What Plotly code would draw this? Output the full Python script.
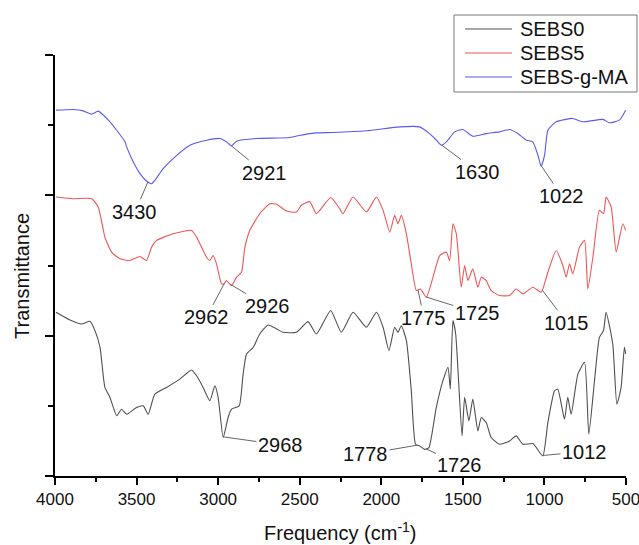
import numpy as np
import plotly.graph_objects as go

# ---------------- data ----------------
wn_ma = [3994, 3888, 3827, 3775, 3735, 3683, 3622, 3571, 3561, 3520, 3479, 3439, 3408, 3388, 3337,
         3276, 3173, 3071, 2990, 2949, 2918, 2887, 2765, 2561, 2459, 2398, 2296, 2091, 1887, 1765,
         1704, 1662, 1632, 1601, 1550, 1500, 1439, 1356, 1275, 1214, 1163, 1111, 1071, 1040, 1020,
         999, 979, 928, 826, 765, 642, 601, 540, 502]
t_ma = [2.607, 2.612, 2.602, 2.579, 2.600, 2.548, 2.464, 2.381, 2.345, 2.238, 2.155, 2.102, 2.083, 2.107, 2.190,
        2.262, 2.357, 2.393, 2.405, 2.381, 2.352, 2.386, 2.405, 2.412, 2.436, 2.445, 2.448, 2.460, 2.488, 2.488,
        2.440, 2.393, 2.357, 2.381, 2.452, 2.469, 2.421, 2.440, 2.452, 2.469, 2.440, 2.393, 2.381, 2.286, 2.207,
        2.286, 2.464, 2.524, 2.548, 2.524, 2.541, 2.517, 2.536, 2.607]

wn_s5 = [3994, 3888, 3775, 3735, 3694, 3653, 3602, 3541, 3479, 3439, 3408, 3377, 3276, 3163, 3132,
         3071, 3051, 3031, 3010, 2979, 2962, 2949, 2918, 2887, 2857, 2836, 2806, 2745, 2683, 2642,
         2581, 2520, 2490, 2438, 2398, 2310, 2255, 2235, 2173, 2091, 2030, 1989, 1948, 1918, 1898,
         1877, 1846, 1816, 1785, 1760, 1724, 1683, 1642, 1601, 1581, 1561, 1540, 1510, 1489, 1469,
         1439, 1408, 1387, 1357, 1326, 1275, 1214, 1173, 1132, 1071, 1020, 979, 928, 887, 867,
         846, 826, 785, 754, 734, 703, 663, 637, 622, 591, 560, 520, 502]
t_s5 = [1.988, 1.976, 1.976, 1.917, 1.702, 1.595, 1.548, 1.536, 1.564, 1.536, 1.631, 1.679, 1.726, 1.750, 1.702,
        1.559, 1.536, 1.571, 1.512, 1.369, 1.372, 1.393, 1.357, 1.417, 1.452, 1.631, 1.750, 1.869, 1.940, 1.936,
        1.888, 1.881, 1.929, 1.955, 1.869, 1.985, 1.905, 1.869, 1.988, 1.881, 1.988, 1.893, 1.738, 1.857, 1.798,
        1.857, 1.726, 1.512, 1.321, 1.333, 1.274, 1.417, 1.571, 1.595, 1.536, 1.798, 1.726, 1.345, 1.500, 1.393,
        1.476, 1.345, 1.417, 1.393, 1.321, 1.286, 1.286, 1.333, 1.298, 1.345, 1.310, 1.452, 1.607, 1.500, 1.417,
        1.512, 1.440, 1.631, 1.679, 1.333, 1.559, 1.893, 1.869, 1.988, 1.917, 1.595, 1.798, 1.750]

wn_s0 = [3994, 3908, 3837, 3786, 3755, 3724, 3694, 3663, 3622, 3592, 3561, 3500, 3459, 3429, 3388,
         3316, 3235, 3163, 3132, 3092, 3051, 3020, 3000, 2969, 2939, 2918, 2871, 2847, 2826, 2785,
         2745, 2694, 2642, 2602, 2520, 2449, 2398, 2310, 2245, 2173, 2091, 2030, 1989, 1953, 1918,
         1898, 1877, 1846, 1816, 1790, 1765, 1734, 1708, 1663, 1622, 1591, 1577, 1561, 1544, 1505,
         1489, 1463, 1439, 1408, 1387, 1357, 1326, 1275, 1214, 1173, 1132, 1071, 1010, 979, 938,
         918, 877, 857, 836, 795, 754, 728, 693, 663, 638, 622, 581, 556, 530, 510, 502]
t_s0 = [1.167, 1.112, 1.083, 1.102, 1.036, 0.917, 0.631, 0.560, 0.429, 0.476, 0.440, 0.488, 0.500, 0.440, 0.583,
        0.631, 0.690, 0.755, 0.714, 0.631, 0.536, 0.643, 0.560, 0.274, 0.417, 0.476, 0.500, 0.726, 0.869, 0.917,
        1.012, 1.076, 1.048, 1.024, 1.024, 1.100, 1.012, 1.179, 1.024, 1.167, 1.060, 1.167, 1.060, 0.893, 1.060,
        1.024, 1.071, 0.964, 0.607, 0.226, 0.214, 0.190, 0.202, 0.488, 0.679, 0.774, 0.619, 1.107, 1.012, 0.286,
        0.560, 0.393, 0.548, 0.321, 0.417, 0.381, 0.274, 0.226, 0.250, 0.286, 0.226, 0.231, 0.143, 0.381, 0.607,
        0.619, 0.405, 0.560, 0.440, 0.726, 0.810, 0.298, 0.679, 0.988, 1.036, 1.167, 0.940, 0.512, 0.631, 0.917, 0.869]

series_names = ["SEBS0", "SEBS5", "SEBS-g-MA"]

# peak labels (wavenumbers) for each series
peaks_ma = [3430, 2921, 1630, 1022]
peaks_s5 = [2962, 2926, 1775, 1725, 1015]
peaks_s0 = [2968, 1778, 1726, 1012]

x_ticks = [4000, 3500, 3000, 2500, 2000, 1500, 1000, 500]

# ---------------- styling ----------------
colors = ["#505050", "#f05555", "#5a5aee"]
FONT = "Liberation Sans, Arial, sans-serif"

# pixel offsets of the label text relative to the peak point
offs_ma = [(-13, 30), (33, 27), (36, 27), (21, 31)]
offs_s5 = [(-18, 34), (37, 22), (6, 28), (51, 16), (25, 33)]
offs_s0 = [(57, 8), (-52, 9), (34, 16), (42, -4)]

series = [(wn_s0, t_s0), (wn_s5, t_s5), (wn_ma, t_ma)]

fig = go.Figure()
for (wn, t), name, c in zip(series, series_names, colors):
    fig.add_trace(go.Scatter(x=wn, y=t, mode="lines", name=name, showlegend=False,
                             line=dict(color=c, width=1.1, shape="spline", smoothing=0.5)))

annotations = []
for (wn, t), peaks, offs in [((wn_ma, t_ma), peaks_ma, offs_ma),
                             ((wn_s5, t_s5), peaks_s5, offs_s5),
                             ((wn_s0, t_s0), peaks_s0, offs_s0)]:
    wa = np.array(wn[::-1], dtype=float)
    ta = np.array(t[::-1], dtype=float)
    for p, (ax, ay) in zip(peaks, offs):
        yv = float(np.interp(p, wa, ta))
        annotations.append(dict(x=p, y=yv, xref="x", yref="y", text=str(p),
                                showarrow=True, arrowhead=0, arrowwidth=1,
                                arrowcolor="#666666", ax=ax, ay=ay, standoff=0,
                                font=dict(family=FONT, size=20, color="#111111")))

# axis titles
annotations.append(dict(x=0.5, y=-0.132, xref="paper", yref="paper",
                        text="Frequency (cm<sup>-1</sup>)", showarrow=False,
                        xanchor="center", yanchor="middle",
                        font=dict(family=FONT, size=20, color="#111111")))
annotations.append(dict(x=-0.058, y=0.475, xref="paper", yref="paper",
                        text="Transmittance", showarrow=False, textangle=-90,
                        xanchor="center", yanchor="middle",
                        font=dict(family=FONT, size=20, color="#111111")))

# legend box drawn in pixel-like paper coordinates
W, H = 639, 545
ML, MR, MT, MB = 55, 13, 55, 69
pw, ph = W - ML - MR, H - MT - MB


def px2paper(px, py):
    return (px - ML) / pw, (H - MB - py) / ph


shapes = []
x0, y0 = px2paper(454, 15)
x1, y1 = px2paper(637, 92)
shapes.append(dict(type="rect", xref="paper", yref="paper", x0=x0, y0=y1, x1=x1, y1=y0,
                   line=dict(color="#777777", width=1), fillcolor="white", layer="above"))
for i, (name, c) in enumerate(zip(series_names, colors)):
    rowy = 29 + i * 24
    lx0, ly = px2paper(465, rowy)
    lx1, _ = px2paper(512, rowy)
    shapes.append(dict(type="line", xref="paper", yref="paper", x0=lx0, x1=lx1, y0=ly, y1=ly,
                       line=dict(color=c, width=1.1), layer="above"))
    tx, ty = px2paper(518, rowy)
    annotations.append(dict(x=tx, y=ty, xref="paper", yref="paper", text=name,
                            showarrow=False, xanchor="left", yanchor="middle",
                            font=dict(family=FONT, size=20, color="#111111")))

fig.update_layout(
    width=W, height=H,
    margin=dict(l=ML, r=MR, t=MT, b=MB, autoexpand=False),
    paper_bgcolor="white", plot_bgcolor="white",
    font=dict(family=FONT, size=17, color="#111111"),
    showlegend=False,
    annotations=annotations,
    shapes=shapes,
)

fig.update_xaxes(range=[4000, 500], tickvals=x_ticks, ticktext=[str(v) for v in x_ticks],
                 ticks="outside", ticklen=7, tickwidth=1.5, tickcolor="black",
                 showline=True, linecolor="black", linewidth=1.5,
                 showgrid=False, zeroline=False, automargin=False,
                 ticklabeloverflow="allow",
                 tickfont=dict(family=FONT, size=17, color="#111111"),
                 minor=dict(dtick=250, tick0=500, ticks="outside", ticklen=4,
                            tickwidth=1.5, tickcolor="black", showgrid=False))
fig.update_yaxes(range=[0, 3], tickvals=[0, 1, 2, 3], showticklabels=False,
                 ticks="outside", ticklen=8, tickwidth=1.5, tickcolor="black",
                 showline=True, linecolor="black", linewidth=1.5,
                 showgrid=False, zeroline=False, automargin=False,
                 minor=dict(dtick=0.5, tick0=0, ticks="outside", ticklen=5,
                            tickwidth=1.5, tickcolor="black", showgrid=False))

fig.write_html("out.html")
